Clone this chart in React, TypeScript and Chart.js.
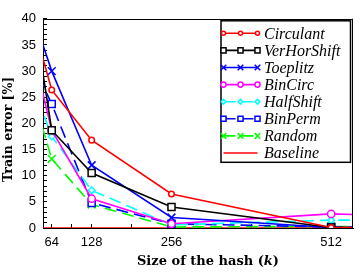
import React, { useEffect, useRef } from 'react';
import { Chart, registerables } from 'chart.js';

Chart.register(...registerables);

// Hash sizes (k) where each curve is sampled (outer points fall outside the visible window)
const HASH_SIZES = [32, 64, 128, 256, 512, 1024];
const X_TICKS = [64, 96, 128, 192, 256, 384, 512];
const X_LABELED = [64, 128, 256, 512];

// Train error [%]
const CIRCULANT = [40.0, 26.4, 16.8, 6.5, 0.1, 0.1];
const VERHORSHIFT = [43.4, 18.7, 10.5, 4.0, 0.1, 0.1];
const TOEPLITZ = [41.4, 30.0, 12.0, 2.0, 0.1, 0.1];
const BINCIRC = [34.5, 18.7, 5.6, 0.8, 2.7, 1.0];
const HALFSHIFT = [27.8, 17.5, 7.2, 0.6, 1.5, 1.5];
const BINPERM = [32.0, 23.7, 4.8, 0.8, 0.2, 0.2];
const RANDOM = [26.0, 13.2, 4.5, 0.2, 0.3, 0.3];
const BASELINE = [0, 0, 0, 0, 0, 0];

const SERIES_NAMES = ['Circulant', 'VerHorShift', 'Toeplitz', 'BinCirc', 'HalfShift', 'BinPerm', 'Random', 'Baseline'];
const X_TITLE_PARTS = ['Size of the hash (', 'k', ')'];
const Y_TITLE = 'Train error [%]';

function drawMarker(ctx: CanvasRenderingContext2D, style: string, r: number, x: number, y: number) {
  if (!style || r <= 0) return;
  ctx.beginPath();
  if (style === 'circle') {
    ctx.arc(x, y, r, 0, Math.PI * 2);
  } else if (style === 'rect') {
    const s = r * Math.SQRT1_2;
    ctx.rect(x - s, y - s, 2 * s, 2 * s);
  } else if (style === 'rectRot') {
    ctx.moveTo(x - r, y);
    ctx.lineTo(x, y - r);
    ctx.lineTo(x + r, y);
    ctx.lineTo(x, y + r);
    ctx.closePath();
  } else if (style === 'crossRot') {
    const s = r * Math.SQRT1_2;
    ctx.moveTo(x - s, y - s);
    ctx.lineTo(x + s, y + s);
    ctx.moveTo(x - s, y + s);
    ctx.lineTo(x + s, y - s);
  }
  if (style !== 'crossRot') ctx.fill();
  ctx.stroke();
}

const framePlugin = {
  id: 'frame',
  afterDraw(chart: any) {
    const { ctx, chartArea } = chart;
    ctx.save();
    ctx.strokeStyle = '#000';
    ctx.lineWidth = 1;
    ctx.beginPath();
    ctx.moveTo(chartArea.left, Math.round(chartArea.top) + 0.5);
    ctx.lineTo(chartArea.right, Math.round(chartArea.top) + 0.5);
    ctx.moveTo(Math.round(chartArea.right) - 0.5, chartArea.top);
    ctx.lineTo(Math.round(chartArea.right) - 0.5, chartArea.bottom);
    ctx.stroke();
    ctx.restore();
  },
};

const axisTitlePlugin = {
  id: 'axisTitles',
  afterDraw(chart: any) {
    const { ctx, chartArea } = chart;
    ctx.save();
    ctx.fillStyle = '#000';
    ctx.textBaseline = 'middle';
    const bold = 'bold 13px "DejaVu Serif", serif';
    const boldItalic = 'italic bold 13px "DejaVu Serif", serif';
    const fonts = [bold, boldItalic, bold];
    const widths = X_TITLE_PARTS.map((t, i) => {
      ctx.font = fonts[i];
      return ctx.measureText(t).width;
    });
    const total = widths.reduce((a, b) => a + b, 0);
    let x = (chartArea.left + chartArea.right) / 2 + 10 - total / 2;
    const y = chartArea.bottom + 34;
    ctx.textAlign = 'left';
    X_TITLE_PARTS.forEach((t, i) => {
      ctx.font = fonts[i];
      ctx.fillText(t, x, y);
      x += widths[i];
    });
    ctx.translate(8.5, (chartArea.top + chartArea.bottom) / 2 + 6);
    ctx.rotate(-Math.PI / 2);
    ctx.font = 'bold 12.5px "DejaVu Serif", serif';
    ctx.textAlign = 'center';
    ctx.fillText(Y_TITLE, 0, 0);
    ctx.restore();
  },
};

const legendPlugin = {
  id: 'boxLegend',
  afterDraw(chart: any) {
    const { ctx, chartArea } = chart;
    const right = chartArea.right - 2.5;
    const top = chartArea.top + 2;
    const w = 129.5;
    const h = 141.5;
    const left = right - w;
    ctx.save();
    ctx.fillStyle = '#fff';
    ctx.fillRect(left, top, w, h);
    ctx.strokeStyle = '#000';
    ctx.lineWidth = 1.5;
    ctx.strokeRect(left, top, w, h);
    const rowH = 17.1;
    ctx.font = 'italic 16px "Liberation Serif"';
    ctx.textBaseline = 'middle';
    ctx.textAlign = 'left';
    chart.data.datasets.forEach((ds: any, i: number) => {
      const y = top + 12.5 + i * rowH;
      const x0 = left + 2.5;
      const x1 = left + 36.5;
      ctx.strokeStyle = ds.borderColor;
      ctx.lineWidth = ds.borderWidth;
      ctx.setLineDash(ds.borderDash || []);
      ctx.beginPath();
      ctx.moveTo(x0, y);
      ctx.lineTo(x1, y);
      ctx.stroke();
      ctx.setLineDash([]);
      ctx.fillStyle = ds.pointBackgroundColor;
      ctx.strokeStyle = ds.pointBorderColor;
      ctx.lineWidth = ds.pointBorderWidth;
      [x0, (x0 + x1) / 2, x1].forEach((mx) => drawMarker(ctx, ds.pointStyle, ds.pointRadius * 0.72, mx, y));
      ctx.fillStyle = '#000';
      ctx.fillText(ds.label, left + 43, y + 1);
    });
    ctx.restore();
  },
};

export default function App() {
  const ref = useRef<HTMLCanvasElement>(null);

  useEffect(() => {
    const toPoints = (vals: number[]) => vals.map((v, i) => ({ x: HASH_SIZES[i], y: v }));
    const series = [CIRCULANT, VERHORSHIFT, TOEPLITZ, BINCIRC, HALFSHIFT, BINPERM, RANDOM, BASELINE];
    const colors = ['#ff0000', '#000000', '#0000ff', '#ff00ff', '#00ffff', '#0000ff', '#00ff00', '#ff0000'];
    const styles = ['circle', 'rect', 'crossRot', 'circle', 'rectRot', 'rect', 'crossRot', ''];
    const radii = [2.8, 5, 5.5, 3.6, 3.3, 5, 5.5, 0];
    const dashes: number[][] = [[], [], [], [], [12, 6], [12, 6], [12, 6], []];

    const datasets = series.map((vals, i) => ({
      label: SERIES_NAMES[i],
      data: toPoints(vals),
      borderColor: colors[i],
      borderWidth: 1.6,
      borderDash: dashes[i],
      pointStyle: styles[i] || false,
      pointRadius: radii[i],
      pointHoverRadius: radii[i],
      pointBorderColor: colors[i],
      pointBackgroundColor: '#ffffff',
      pointBorderWidth: 1.5,
      fill: false,
      tension: 0,
    }));

    const chart = new Chart(ref.current as HTMLCanvasElement, {
      type: 'line',
      data: { datasets } as any,
      options: {
        animation: false,
        responsive: false,
        maintainAspectRatio: false,
        events: [],
        layout: { padding: { top: 8, right: 6, left: 0, bottom: 0 } },
        plugins: {
          legend: { display: false },
          tooltip: { enabled: false },
        },
        scales: {
          x: {
            type: 'linear',
            min: 50,
            max: 547,
            afterBuildTicks: (axis: any) => {
              axis.ticks = X_TICKS.map((value) => ({ value }));
            },
            afterFit: (scale: any) => {
              scale.height = 44;
            },
            ticks: {
              autoSkip: false,
              maxRotation: 0,
              padding: 11,
              color: '#000',
              font: { family: '"Liberation Sans", Arial, sans-serif', size: 13 },
              callback: (v: any) => (X_LABELED.includes(Number(v)) ? String(v) : ''),
            },
            grid: {
              drawOnChartArea: false,
              drawTicks: true,
              tickLength: -4,
              tickColor: '#000',
              tickWidth: 1,
            },
            border: { display: true, color: '#000', width: 1 },
            title: { display: false },
          },
          y: {
            type: 'linear',
            min: 0,
            max: 40,
            afterFit: (scale: any) => {
              scale.width = 43;
            },
            ticks: {
              stepSize: 1,
              autoSkip: false,
              padding: 11,
              color: '#000',
              font: { family: '"Liberation Sans", Arial, sans-serif', size: 13 },
              callback: (v: any) => (Number(v) % 5 === 0 ? String(v) : ''),
            },
            grid: {
              drawOnChartArea: false,
              drawTicks: true,
              tickLength: -4,
              tickColor: '#000',
              tickWidth: 1,
            },
            border: { display: true, color: '#000', width: 1 },
            title: { display: false },
          },
        },
      } as any,
      plugins: [framePlugin, axisTitlePlugin, legendPlugin],
    });
    return () => chart.destroy();
  }, []);

  return (
    <div style={{ position: 'fixed', left: 0, top: 0, width: 360, height: 272, background: '#fff' }}>
      <canvas ref={ref} width={360} height={272} style={{ display: 'block' }} />
    </div>
  );
}
